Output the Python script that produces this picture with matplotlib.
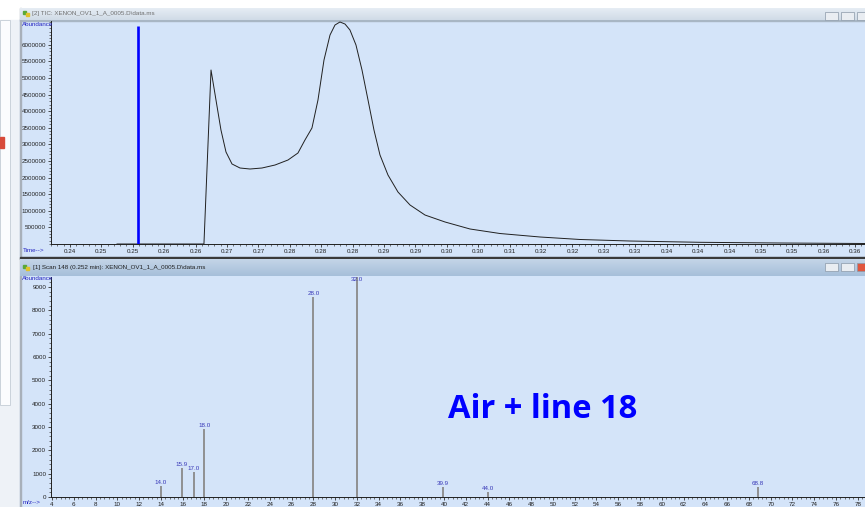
import numpy as np
import matplotlib
matplotlib.use('Agg')
import matplotlib.pyplot as plt
from matplotlib.patches import Rectangle
from matplotlib.colors import LinearSegmentedColormap
from matplotlib.ticker import FixedLocator, MultipleLocator

plt.rcParams['font.family'] = ['Liberation Sans', 'DejaVu Sans']

W, H = 865, 507

# TIC trace: time (min) vs abundance
tic_time = [0.24859, 0.26188, 0.26296, 0.26372, 0.26448, 0.26525, 0.26617, 0.26739,
            0.26892, 0.27075, 0.27274, 0.27473, 0.27625, 0.27732, 0.27839, 0.27931,
            0.28023, 0.28115, 0.28191, 0.28267, 0.28344, 0.28420, 0.28512, 0.28604,
            0.28696, 0.28787, 0.28879, 0.29001, 0.29154, 0.29338, 0.29567, 0.29873,
            0.30255, 0.30713, 0.31325, 0.31936, 0.32701, 0.33771, 0.34994, 0.36293]
tic_abund = [0, 0, 5241000, 4337000, 3434000, 2771000, 2410000, 2289000,
             2259000, 2289000, 2379000, 2530000, 2741000, 3132000, 3494000, 4337000,
             5542000, 6295000, 6596000, 6687000, 6626000, 6446000, 5994000, 5241000,
             4337000, 3434000, 2681000, 2078000, 1566000, 1175000, 873000, 663000,
             452000, 316000, 211000, 136000, 90000, 51000, 30000, 15000]
scan_time = 0.2518
scan_height = 6566000

# tick labels as printed by the software (rounded)
time_labels = ['0.24', '0.25', '0.25', '0.26', '0.26', '0.27', '0.27', '0.28', '0.28',
               '0.28', '0.29', '0.29', '0.30', '0.30', '0.31', '0.32', '0.32', '0.33',
               '0.33', '0.34', '0.34', '0.34', '0.35', '0.35', '0.36', '0.36']

# mass spectrum of scan 148
mz = [14.0, 15.9, 17.0, 18.0, 28.0, 32.0, 39.9, 44.0, 68.8]
ms_abund = [470, 1240, 1070, 2910, 8570, 9420, 430, 210, 430]
ms_labels = ['14.0', '15.9', '17.0', '18.0', '28.0', '32.0', '39.9', '44.0', '68.8']

fig = plt.figure(figsize=(W / 100, H / 100), dpi=100)
fig.patch.set_facecolor('white')


def px_rect(x0, y0, x1, y1, **kw):
    r = Rectangle((x0 / W, 1 - y1 / H), (x1 - x0) / W, (y1 - y0) / H,
                  transform=fig.transFigure, **kw)
    fig.add_artist(r)


def px_grad(x0, y0, x1, y1, c_top, c_bot):
    a = fig.add_axes([x0 / W, 1 - y1 / H, (x1 - x0) / W, (y1 - y0) / H], zorder=-4)
    cmap = LinearSegmentedColormap.from_list('g', [c_top, c_bot])
    a.imshow(np.linspace(0, 1, 32).reshape(-1, 1), aspect='auto', cmap=cmap)
    a.axis('off')


def px_text(x, y, s, **kw):
    fig.text(x / W, 1 - y / H, s, **kw)


bg = '#d4e4f9'
# left side panel
px_rect(0, 20, 20, 507, color='#eef2f7', zorder=-5)
px_rect(0, 20, 10, 405, facecolor='#fbfcfe', edgecolor='#c4ccd6', lw=0.6, zorder=-5)
px_rect(0, 137, 4, 148, color='#d84a3a', zorder=-5)
# top window
px_grad(20, 8, 865, 20, '#e6edf4', '#d0dbe7')
px_rect(20, 20, 865, 257, color=bg, zorder=-5)
px_rect(20, 19.5, 865, 20.5, color='#a8b6c4', zorder=-4)
px_rect(19.5, 8, 20.5, 507, color='#a8b0ba', zorder=-4)
# separator + bottom window
px_rect(20, 256.5, 865, 258.5, color='#3a3a3a', zorder=-4)
px_grad(20, 258.5, 865, 276, '#c6d6e8', '#a6bfda')
px_rect(20, 276, 865, 507, color=bg, zorder=-5)

# window buttons
for (bx, by, close) in [(825, 12, False), (841, 12, False), (857, 12, False),
                        (825, 263, False), (841, 263, False), (857, 263, True)]:
    px_rect(bx, by, bx + 13, by + 8, facecolor='#e0563e' if close else '#e9edf2',
            edgecolor='#8a98a8', lw=0.5, zorder=-3)

# window icons
for iy in (14, 268):
    px_rect(23, iy - 3, 26, iy, color='#5aa838', zorder=-3)
    px_rect(26, iy - 1, 29, iy + 2, color='#e2c22a', zorder=-3)

px_text(32, 14, r'[2] TIC: XENON_OV1_1_A_0005.D\data.ms', fontsize=4.5,
        color='#707070', va='center', ha='left')
px_text(33, 268, r'[1] Scan 148 (0.252 min): XENON_OV1_1_A_0005.D\data.ms',
        fontsize=4.5, color='#202020', va='center', ha='left')

lab_blue = '#2424c0'
px_text(22, 25, 'Abundance', fontsize=4.5, color=lab_blue, va='center', ha='left')
px_text(23, 251, 'Time-->', fontsize=4.5, color=lab_blue, va='center', ha='left')
px_text(22, 279, 'Abundance', fontsize=4.5, color=lab_blue, va='center', ha='left')
px_text(23, 503, 'm/z-->', fontsize=4.5, color=lab_blue, va='center', ha='left')


def style_axes(ax):
    ax.set_facecolor('none')
    for s in ('top', 'right'):
        ax.spines[s].set_visible(False)
    for s in ('left', 'bottom'):
        ax.spines[s].set_color('#202020')
        ax.spines[s].set_linewidth(0.7)
    ax.tick_params(which='major', length=2.5, width=0.6, color='#303030',
                   labelsize=4.5, labelcolor='#202020', pad=1)
    ax.tick_params(which='minor', length=1.3, width=0.5, color='#404040')


# ---- TIC panel
ax1 = fig.add_axes([51 / W, 1 - 244 / H, (W - 51) / W, (244 - 21) / H])
style_axes(ax1)
ax1.plot(tic_time, tic_abund, color='#202020', lw=0.7)
ax1.vlines(scan_time, 0, scan_height, color='#0000ff', lw=1.9)
ax1.set_xlim(0.23850, 0.36293)
ax1.set_ylim(0, 6717000)
tpos = 0.2414 + 0.0048 * np.arange(len(time_labels))
ax1.xaxis.set_major_locator(FixedLocator(tpos))
ax1.set_xticklabels(time_labels)
ax1.xaxis.set_minor_locator(FixedLocator(0.2414 - 0.0048 + 0.00096 * np.arange(5 * len(time_labels) + 10)))
ax1.yaxis.set_major_locator(FixedLocator(np.arange(500000, 6000001, 500000)))
ax1.yaxis.set_minor_locator(MultipleLocator(100000))
ax1.yaxis.set_major_formatter(plt.FuncFormatter(lambda v, p: '%d' % v))

# ---- spectrum panel
ax2 = fig.add_axes([51 / W, 1 - 497 / H, (W - 51) / W, (497 - 277) / H])
style_axes(ax2)
ax2.set_xlim(3.908, 78.66)
ax2.set_ylim(0, 9429)
ax2.vlines(mz, 0, ms_abund, color='#8a8a8a', lw=1.3)
ymax = ax2.get_ylim()[1]
for m, a, lab in zip(mz, ms_abund, ms_labels):
    if a > ymax * 0.97:
        ax2.text(m, ymax, lab, ha='center', va='top', fontsize=4.5, color='#3838b8')
    else:
        ax2.annotate(lab, (m, a), xytext=(0, 1), textcoords='offset points',
                     ha='center', va='bottom', fontsize=4.5, color='#3838b8')
ax2.xaxis.set_major_locator(MultipleLocator(2))
ax2.xaxis.set_minor_locator(MultipleLocator(0.4))
ax2.yaxis.set_major_locator(MultipleLocator(1000))
ax2.yaxis.set_minor_locator(MultipleLocator(200))

px_text(543, 410, 'Air + line 18', fontsize=23.5, fontweight='bold', family='Open Sans',
        color='#0000ff', ha='center', va='center')

fig.savefig('out.png', dpi=100)
